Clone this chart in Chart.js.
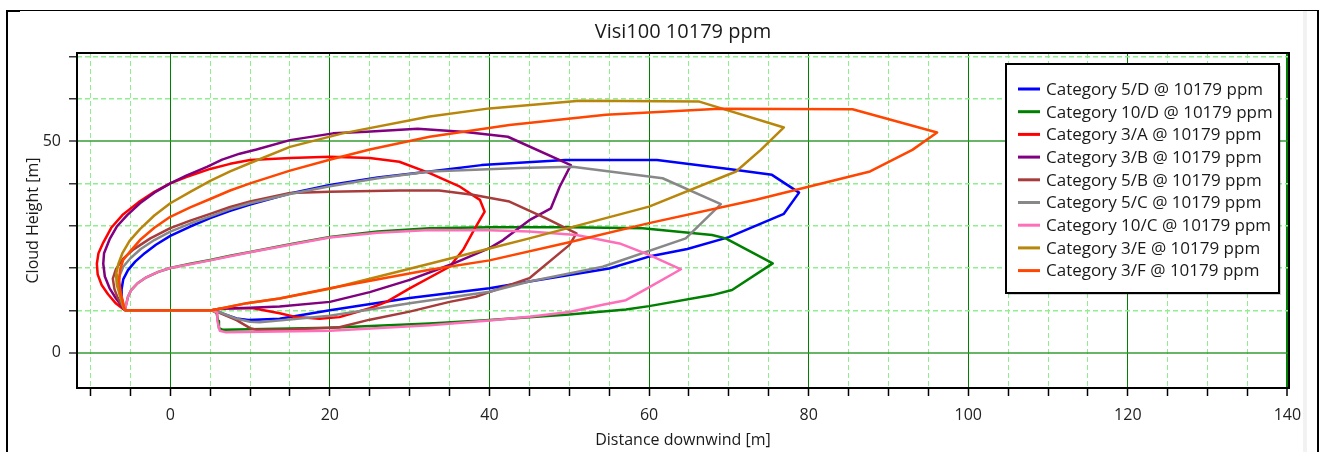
<!DOCTYPE html>
<html><head><meta charset="utf-8">
<script src="https://cdn.jsdelivr.net/npm/chart.js@4.4.1/dist/chart.umd.min.js"></script>
<style>html,body{margin:0;padding:0;background:#fff;overflow:hidden}#wrap{width:1320px;height:452px;position:relative}</style>
</head><body><div id="wrap"><canvas id="c" width="1320" height="452"></canvas></div>
<script>
const chartTitle = 'Visi100 10179 ppm';
const xAxisTitle = 'Distance downwind [m]';
const yAxisTitle = 'Cloud Height [m]';
const xTickLabels = [0, 20, 40, 60, 80, 100, 120, 140];
const yTickLabels = [0, 50];

const seriesLabels = ['Category 5/D @ 10179 ppm','Category 10/D @ 10179 ppm','Category 3/A @ 10179 ppm','Category 3/B @ 10179 ppm','Category 5/B @ 10179 ppm','Category 5/C @ 10179 ppm','Category 10/C @ 10179 ppm','Category 3/E @ 10179 ppm','Category 3/F @ 10179 ppm'];
const seriesColors = ['#0000ff','#008000','#ff0000','#800080','#a83c3c','#888888','#ff6eb9','#b8860b','#ff4500'];

const cat5D = [[-5.7,10],[5.2,10],[6.5,9.3],[8.3,8.1],[9.8,7.7],[13.7,8.0],[20,10.0],[30,12.9],[40,15.2],[45,16.8],[55,19.9],[60,22.7],[64.8,24.5],[70,27.3],[76.9,32.8],[78.8,37.8],[75.4,42],[70,43.4],[61,45.5],[49.5,45.5],[39,44.3],[32.5,42.8],[26,41.4],[20,39.6],[15,37.6],[10,35],[7.5,33.5],[5,31.8],[2.5,29.8],[0,27.6],[-1.8,25.5],[-3.2,23.5],[-4.4,21.5],[-5.3,19.5],[-5.9,17.3],[-6.1,15],[-6.1,13],[-5.9,11.3],[-5.7,10]];
const cat10D = [[-5.7,10],[5.2,10],[5.8,9.4],[6.0,7.5],[6.1,5.8],[6.6,5.4],[20,5.9],[32.5,6.9],[40,7.7],[50,9.0],[57.1,10.2],[60,11],[67.9,13.6],[70.4,14.8],[75.5,21.1],[69.6,27.0],[67.9,27.8],[59.2,29.4],[50,29.6],[40,29.6],[32.5,29.4],[26,28.6],[20,27.3],[15,25.6],[10,23.8],[7.5,22.9],[5,21.9],[2.5,21],[0,20],[-1.5,19.1],[-3,17.8],[-4.1,16.4],[-4.9,14.8],[-5.3,13.2],[-5.5,11.6],[-5.7,10]];
const cat3A = [[-5.7,10],[5.2,10],[6.5,10.5],[10.4,10.5],[13.7,9.3],[15.8,8.4],[18.7,8.0],[21.2,8.4],[25,10.5],[27.1,12],[30,15.2],[35,20.3],[36.7,24.3],[38.3,29.8],[39.4,33.3],[38.8,36.1],[36.3,39.2],[32.5,42.4],[28.7,45.1],[25,46],[20,46.3],[15,46],[10,45.5],[7.5,44.6],[5,43.4],[2,41.5],[0,40],[-2,38],[-4,35.5],[-6,32.5],[-7.4,29.5],[-8.4,26],[-9,23.5],[-9.2,21],[-9.1,18.5],[-8.6,16],[-7.8,13.8],[-6.8,11.6],[-5.7,10]];
const cat3B = [[-5.7,10],[5.2,10],[6.5,10.4],[10,10.6],[13.7,10.9],[20,12],[25,14.3],[30,17.2],[35,20.7],[40,24.7],[41.7,26.6],[45,31.3],[47.7,34.1],[48.8,39.2],[50.2,44.3],[42.3,51.0],[37,52.1],[31,52.9],[24.6,52.2],[20.4,51.8],[15,50.2],[10.8,48],[8.7,47],[6.5,45.6],[4.6,43.9],[2,41.8],[0,40],[-2,37.8],[-3.8,35.3],[-5.4,32.5],[-6.7,29.8],[-7.6,26.8],[-8.3,23.5],[-8.4,21],[-8.2,18],[-7.6,15.2],[-6.8,12.8],[-6.1,11],[-5.7,10]];
const cat5B = [[-5.7,10],[5.2,10],[5.8,9.7],[8.3,7.7],[10,5.8],[10.8,5.4],[15,5.5],[21.2,6.0],[25,7.8],[30,9.7],[35,12.0],[38.3,13.2],[45,17.6],[50,25.4],[50.9,28.2],[47.1,31.7],[42.5,35.7],[37.9,37.3],[33.7,38.3],[28.7,38.3],[20,38.0],[15,37.7],[10,35.7],[7.5,34.4],[5,32.8],[2.5,31.2],[0,29.4],[-2.5,27],[-4.6,24.4],[-5.9,22.2],[-6.8,19.8],[-7.2,17.5],[-7,15],[-6.6,13],[-6.1,11.3],[-5.7,10]];
const cat5C = [[-5.7,10],[5.2,10],[6.3,9.5],[8.3,8.0],[10,7.3],[11.2,7.2],[20,8.7],[30,11.7],[40,14.4],[45,16.8],[54.2,20.3],[64.6,27.0],[69,35.1],[61.7,41.2],[50.4,43.9],[43.8,43.6],[32.5,42.8],[26,41.2],[20,39.3],[15,37.5],[10,35.3],[7.5,33.9],[5,32.2],[2.5,30.5],[0,28.6],[-2,26.6],[-3.7,24.5],[-5,22.3],[-5.9,20.3],[-6.4,18],[-6.5,16],[-6.3,13.5],[-6,11.5],[-5.7,10]];
const cat10C = [[-5.7,10],[5.2,10],[5.9,9.4],[5.9,7.5],[6.2,5.2],[7,4.8],[20,5.2],[32.5,6.5],[40,7.6],[45,8.5],[50,9.6],[54.2,11.3],[57.1,12.4],[59.6,15],[64,19.7],[60,23.1],[56.3,25.8],[50.9,27.8],[45,28.6],[40,28.9],[32.5,29.0],[26,28.3],[20,27.2],[15,25.5],[10,23.7],[7.5,22.8],[5,21.8],[2.5,20.9],[0,20],[-1.5,19.1],[-3,17.8],[-4.1,16.4],[-4.9,14.8],[-5.3,13.2],[-5.5,11.6],[-5.7,10]];
const cat3E = [[-5.7,10],[5.2,10],[6.5,10.5],[9.6,11.7],[13.7,12.8],[20,15.1],[32.5,21],[40,24.6],[45,27],[60,34.5],[70.9,42.8],[74,47.9],[76.9,53.2],[66.3,59.3],[51.3,59.5],[40,57.7],[32.5,55.8],[21.6,51.8],[15,48.6],[10.4,45.1],[7.5,42.8],[5,40.6],[2.5,38],[0,35.3],[-2,32.4],[-3.8,29.2],[-5.1,26.4],[-6,23.5],[-6.5,21],[-6.8,18.5],[-6.7,16],[-6.3,13.5],[-6,11.5],[-5.7,10]];
const cat3F = [[-5.7,10],[5.2,10],[6.5,10.5],[9.6,11.7],[13.7,12.8],[20,15.2],[32.5,19.6],[40,21.8],[50,26.1],[60,30.6],[73.4,36.1],[87.7,42.8],[93,47.9],[96.1,52],[85.5,57.5],[68.8,57.6],[54.6,56.2],[42.5,53.8],[32.5,51.0],[25,48],[20.2,45.7],[15,43],[10,40],[7.5,38.3],[5,36.3],[2.5,34.3],[0,32.1],[-2,29.5],[-3.8,26.6],[-5,24],[-5.9,21.9],[-6.3,19.5],[-6.4,17],[-6.2,14],[-5.9,11.8],[-5.7,10]];

const seriesData = [cat5D, cat10D, cat3A, cat3B, cat5B, cat5C, cat10C, cat3E, cat3F];

const FONT = '"Open Sans", "Noto Sans", sans-serif';

const datasets = seriesData.map((pts, i) => ({
  label: seriesLabels[i],
  data: pts.map(([x, y]) => ({x, y})),
  borderColor: seriesColors[i],
  backgroundColor: seriesColors[i],
  borderWidth: 2.5,
  borderJoinStyle: 'round',
  showLine: true,
  pointRadius: 0,
  tension: 0,
  fill: false,
  order: seriesData.length - i
}));

const framePlugin = {
  id: 'frame',
  beforeDraw(chart) {
    const {ctx, width, height} = chart;
    ctx.save();
    ctx.fillStyle = '#fff';
    ctx.fillRect(0, 0, width, height);
    ctx.restore();
  },
  afterDatasetsDraw(chart) {
    const {ctx, chartArea: a, height} = chart;
    ctx.save();
    ctx.strokeStyle = '#000';
    ctx.lineWidth = 2;
    ctx.strokeRect(a.left, a.top, a.right - a.left, a.bottom - a.top);
    ctx.fillStyle = '#f2f2f2';
    ctx.fillRect(1303, 11, 4, height - 11);
    ctx.fillStyle = '#000';
    ctx.fillRect(6, 10, 2, height - 10);
    ctx.fillRect(6, 10, 1313, 1);
    ctx.fillRect(6, 10, 14, 2);
    ctx.fillRect(1317, 10, 2, height - 10);
    ctx.restore();
  }
};

const legendPlugin = {
  id: 'floatLegend',
  afterDraw(chart) {
    const {ctx, chartArea} = chart;
    const w = 273, h = 229;
    const right = chartArea.right - 10, top = chartArea.top + 11;
    const left = right - w;
    ctx.save();
    ctx.fillStyle = 'rgba(0,0,0,0.18)';
    ctx.fillRect(left + 2, top + 2, w, h);
    ctx.fillStyle = '#fff';
    ctx.fillRect(left, top, w, h);
    ctx.strokeStyle = '#000';
    ctx.lineWidth = 2;
    ctx.strokeRect(left, top, w, h);
    ctx.font = '17px ' + FONT;
    ctx.textBaseline = 'middle';
    ctx.textAlign = 'left';
    chart.data.datasets.forEach((ds, i) => {
      const y = top + 25 + i * 22.7;
      ctx.strokeStyle = ds.borderColor;
      ctx.lineWidth = 3;
      ctx.beginPath();
      ctx.moveTo(left + 12, y);
      ctx.lineTo(left + 34, y);
      ctx.stroke();
      ctx.fillStyle = '#1a1a1a';
      ctx.fillText(ds.label, left + 40, y + 1);
    });
    ctx.restore();
  }
};

const isMajorX = v => xTickLabels.includes(v);
const isMajorY = v => yTickLabels.includes(v);

new Chart(document.getElementById('c'), {
  type: 'scatter',
  data: {datasets},
  plugins: [framePlugin, legendPlugin],
  options: {
    responsive: false,
    animation: false,
    devicePixelRatio: 1,
    layout: {padding: {left: 8, right: 31, top: 10, bottom: 0}},
    plugins: {
      legend: {display: false},
      tooltip: {enabled: false},
      title: {
        display: true, text: chartTitle, fullSize: false,
        color: '#1a1a1a', font: {family: FONT, size: 20, weight: 'normal'},
        padding: {top: 10, bottom: 9}
      }
    },
    scales: {
      x: {
        type: 'linear', min: -11.69, max: 140.2,
        afterFit: s => { s.height = 64; },
        border: {display: false, dash: ctx => (ctx.tick && !isMajorX(ctx.tick.value)) ? [5, 3] : []},
        grid: {
          color: ctx => (ctx.tick && isMajorX(ctx.tick.value)) ? '#008000' : '#90ee90',
          lineWidth: ctx => (ctx.tick && ctx.tick.value === 140) ? 2 : 1,
          tickColor: '#000', tickLength: 8, tickWidth: 1.5, tickBorderDash: []
        },
        ticks: {
          stepSize: 5, includeBounds: false, autoSkip: false, maxRotation: 0, padding: 10,
          color: '#222', font: {family: FONT, size: 16},
          callback: v => isMajorX(v) ? String(v) : ''
        },
        title: {display: true, text: xAxisTitle, color: '#1a1a1a', font: {family: FONT, size: 16}, padding: {top: 0, bottom: 2.4}}
      },
      y: {
        type: 'linear', min: -8.34, max: 70.78,
        afterFit: s => { s.width = 69; },
        border: {display: false, dash: ctx => (ctx.tick && !isMajorY(ctx.tick.value)) ? [5, 3] : []},
        grid: {
          color: ctx => (ctx.tick && isMajorY(ctx.tick.value)) ? 'rgba(40,150,40,0.7)' : '#90ee90',
          lineWidth: ctx => (ctx.tick && isMajorY(ctx.tick.value)) ? 2 : 1.5,
          tickColor: '#333', tickLength: 8, tickWidth: 1.5, tickBorderDash: []
        },
        ticks: {
          stepSize: 10, includeBounds: false, autoSkip: false, padding: 8,
          color: '#222', font: {family: FONT, size: 16},
          callback: v => isMajorY(v) ? String(v) : ''
        },
        title: {display: true, text: yAxisTitle, color: '#1a1a1a', font: {family: FONT, size: 16}, padding: {top: 15.4, bottom: 0}}
      }
    }
  }
});
</script>
</body></html>
